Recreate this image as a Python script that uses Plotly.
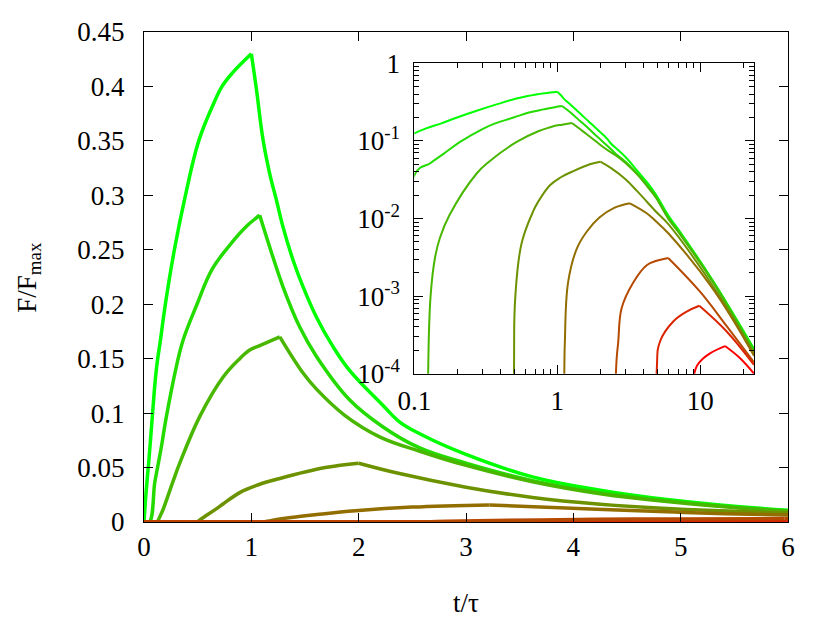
import plotly.graph_objects as go

# curves: t/tau and F/Fmax, one pair of lists per curve
t1 = [0, 0.02, 0.044, 0.084, 0.1, 0.121, 0.153, 0.199, 0.283, 0.386, 0.51, 0.634, 0.727, 0.82, 1.0,
      1.048, 1.109, 1.171, 1.234, 1.295, 1.389, 1.482, 1.607, 1.761, 1.917, 2.227, 2.38, 2.569,
      3.0, 3.62, 4.25, 4.87, 6.0, 7.2, 12.4, 23.75]
f1 = [0, 0.028, 0.055, 0.105, 0.125, 0.145, 0.167, 0.2, 0.25, 0.3, 0.35, 0.381, 0.4, 0.412, 0.43,
      0.397, 0.351, 0.32, 0.2955, 0.271, 0.2404, 0.216, 0.188, 0.161, 0.139, 0.107, 0.092, 0.081,
      0.062, 0.0414, 0.0292, 0.0207, 0.0108, 0.0068, 0.00153, 0.00021]

t2 = [0, 0.05, 0.1, 0.13, 0.16, 0.209, 0.302, 0.364, 0.494, 0.634, 0.805, 0.96, 1.078,
      1.171, 1.295, 1.451, 1.607, 1.917, 2.227, 2.569, 3.0, 3.62, 4.25, 4.87, 6.0, 7.2, 12.4, 23.75]
f2 = [0, 0, 0.036, 0.052, 0.068, 0.097, 0.143, 0.167, 0.2, 0.232, 0.255, 0.272, 0.2817,
      0.2526, 0.216, 0.179, 0.152, 0.112, 0.0873, 0.068, 0.054, 0.038, 0.027, 0.0195, 0.0102, 0.0065, 0.0015, 0.0002]

t3 = [0, 0.124, 0.125, 0.13, 0.1395, 0.151, 0.176, 0.273, 0.333, 0.52, 0.736, 0.892, 0.985, 1.078, 1.265,
      1.48, 1.607, 1.87, 2.2, 2.57, 3.0, 3.62, 4.25, 4.87, 6.0, 7.2, 12.4, 23.75]
f3 = [0, 0, 0.0001, 0.001, 0.0031, 0.0056, 0.011, 0.038, 0.054, 0.097, 0.133, 0.15, 0.158, 0.162, 0.17,
      0.137, 0.122, 0.098, 0.078, 0.065, 0.052, 0.037, 0.026, 0.0188, 0.0098, 0.0063, 0.00145, 0.00019]

t4 = [0, 0.497, 0.498, 0.509, 0.563, 0.68, 0.736, 0.892, 1.06, 1.265, 1.69, 2.0,
      2.38, 3.0, 3.62, 4.25, 4.87, 6.0, 12.4, 23.75]
f4 = [0, 0, 0.0001, 0.001, 0.0048, 0.0125, 0.0165, 0.027, 0.034, 0.04, 0.05, 0.054,
      0.0445, 0.032, 0.0225, 0.0163, 0.0124, 0.0084, 0.0013, 0.00018]

t5 = [0, 1.119, 1.12, 1.13, 1.19, 1.37, 1.61, 1.97, 2.5, 3.22, 4.22, 4.87, 6.0, 12.4, 23.75]
f5 = [0, 0, 0.0001, 0.00026, 0.0015, 0.0041, 0.0068, 0.0103, 0.0137, 0.0157, 0.0117, 0.0093, 0.0064, 0.0012, 0.00017]

t6 = [0, 2.56, 2.57, 2.67, 2.82, 3.4, 4.22, 4.95, 5.97, 9.96, 15.3, 23.75]
f6 = [0, 0, 0.0001, 0.00026, 0.0007, 0.0015, 0.0025, 0.00285, 0.0031, 0.00114, 0.00041, 0.00014]

t7 = [0, 4.94, 4.95, 5.23, 6.47, 8.03, 9.84, 15.3, 23.75]
f7 = [0, 0, 0.0001, 0.00026, 0.00047, 0.00063, 0.00075, 0.00035, 0.00013]

t8 = [0, 9.07, 9.08, 9.96, 11.7, 14.9, 19.0, 23.75]
f8 = [0, 0, 0.0001, 0.000143, 0.000183, 0.000227, 0.000158, 0.0001]

colors = ["#00ff00", "#24db00", "#49b600", "#6d9200", "#926d00", "#b64900", "#db2400", "#ff0000"]

x_ticks = [0, 1, 2, 3, 4, 5, 6]
x_labels = ["0", "1", "2", "3", "4", "5", "6"]
y_ticks = [0, 0.05, 0.1, 0.15, 0.2, 0.25, 0.3, 0.35, 0.4, 0.45]
y_labels = ["0", "0.05", "0.1", "0.15", "0.2", "0.25", "0.3", "0.35", "0.4", "0.45"]

ix_ticks = [0.1, 1, 10]
ix_labels = ["0.1", "1", "10"]
iy_ticks = [1e-4, 1e-3, 1e-2, 1e-1, 1]
iy_labels = ["10<sup>-4</sup>", "10<sup>-3</sup>", "10<sup>-2</sup>", "10<sup>-1</sup>", "1"]
ix_minor = [0.2, 0.3, 0.4, 0.5, 0.6, 0.7, 0.8, 0.9, 2, 3, 4, 5, 6, 7, 8, 9, 20]
iy_minor = [m * 10.0 ** e for e in range(-4, 0) for m in range(2, 10)]

curves = [(t1, f1), (t2, f2), (t3, f3), (t4, f4), (t5, f5), (t6, f6), (t7, f7), (t8, f8)]

fig = go.Figure()


def add_curve(t, f, c, w, xa, ya):
    # rise and fall drawn apart so the peak keeps its corner
    k = f.index(max(f))
    for xs, ys in ((t[:k + 1], f[:k + 1]), (t[k:], f[k:])):
        fig.add_trace(go.Scatter(x=xs, y=ys, mode="lines",
                                 line=dict(color=c, width=w, shape="spline", smoothing=1.1),
                                 xaxis=xa, yaxis=ya, hoverinfo="skip"))


# main panel: the brown curve ends up on top along the zero line, as in the picture
for i in [0, 1, 2, 3, 4, 7, 6, 5]:
    add_curve(*curves[i], colors[i], 3.5, "x", "y")
for (t, f), c in zip(curves, colors):
    add_curve(t, f, c, 2, "x2", "y2")

tf = dict(family="Liberation Serif", size=27, color="black")
ax = dict(showline=True, linecolor="black", linewidth=1, mirror="ticks", ticks="inside",
          ticklen=9, tickwidth=1, tickcolor="black", showgrid=False, zeroline=False,
          tickmode="array", tickfont=tf)

# the page body adds an 8px offset, so the figure is 8px smaller than the window
fig.update_layout(
    template="none",
    width=822, height=617,
    margin=dict(l=136, r=42, t=24, b=103),
    paper_bgcolor="white", plot_bgcolor="white",
    font=tf,
    showlegend=False,
    xaxis=dict(ax, domain=[0, 1], range=[0, 6], tickvals=x_ticks, ticktext=x_labels,
               ticklabelstandoff=1),
    yaxis=dict(ax, domain=[0, 1], range=[0, 0.45], tickvals=y_ticks, ticktext=y_labels,
               ticklabelstandoff=13),
    xaxis2=dict(ax, type="log", domain=[0.4197, 0.9472], anchor="y2", range=[-1, 1.3757],
                tickvals=ix_ticks, ticktext=ix_labels, ticklabelstandoff=3,
                minor=dict(tickvals=ix_minor, ticks="inside", ticklen=5, tickcolor="black")),
    yaxis2=dict(ax, type="log", domain=[0.3027, 0.9361], anchor="x2", range=[-4, 0],
                tickvals=iy_ticks, ticktext=iy_labels, ticklabelstandoff=8,
                minor=dict(tickvals=iy_minor, ticks="inside", ticklen=5, tickcolor="black")),
    annotations=[
        dict(text="t/τ", xref="paper", yref="paper", x=0.5, y=-0.165, showarrow=False,
             xanchor="center", yanchor="middle"),
        dict(text="F/F<sub>max</sub>", xref="paper", yref="paper", x=-0.179, y=0.5,
             showarrow=False, textangle=-90, xanchor="center", yanchor="middle"),
    ],
)

fig.write_html("out.html")
